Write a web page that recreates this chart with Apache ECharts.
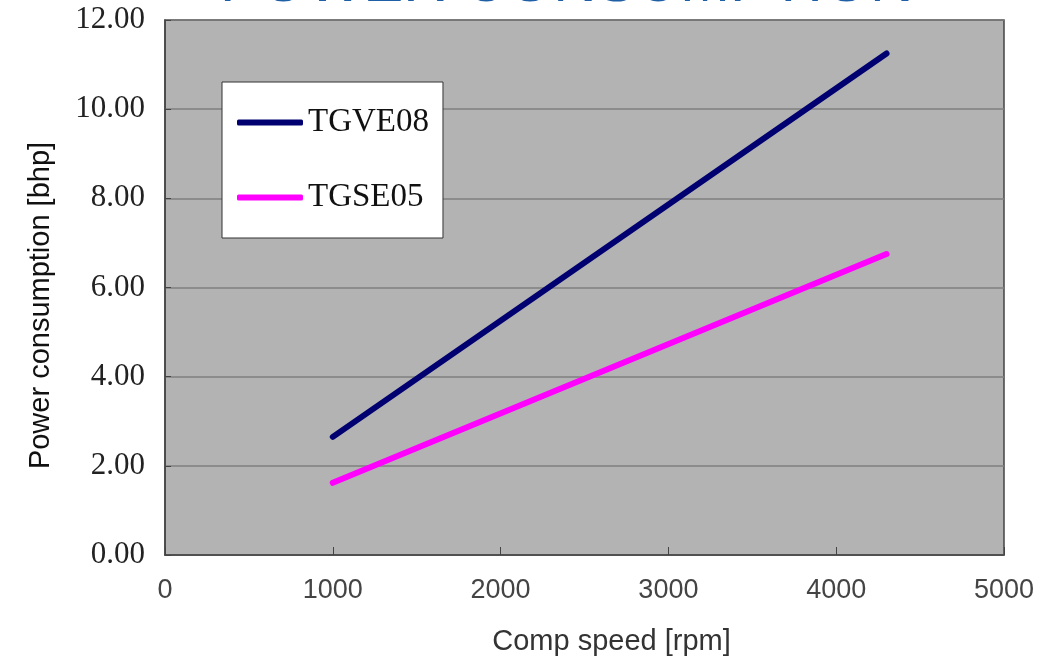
<!DOCTYPE html>
<html>
<head>
<meta charset="utf-8">
<script src="https://cdn.jsdelivr.net/npm/echarts@6/dist/echarts.min.js"></script>
<style>html,body{margin:0;padding:0;background:#fff;}#c{width:1055px;height:658px;}</style>
</head>
<body>
<div id="c"></div>
<script>
const titleText = 'POWER CONSUMPTION';
const xName = 'Comp speed [rpm]';
const yName = 'Power consumption [bhp]';
const seriesNames = ['TGVE08', 'TGSE05'];
const speeds = [1000, 4300];
const tgve08 = [2.65, 11.25];
const tgse05 = [1.62, 6.75];
const seriesColors = ['#000070', '#ff00ff'];

const chart = echarts.init(document.getElementById('c'));
chart.setOption({
  animation: false,
  backgroundColor: '#ffffff',
  title: {
    text: titleText, left: 215, top: -51,
    textStyle: { color: '#1f5fa6', fontSize: 60, fontWeight: 'normal', fontFamily: 'Liberation Sans' }
  },
  grid: { left: 165, right: 51, top: 20, bottom: 103, outerBoundsMode: 'none', show: true, backgroundColor: '#b3b3b3', borderColor: '#444', borderWidth: 1.5 },
  legend: {
    orient: 'vertical', left: 222, top: 82,
    backgroundColor: '#ffffff', borderColor: '#333', borderWidth: 1,
    padding: [24, 14, 24, 15], itemGap: 42,
    itemWidth: 66, itemHeight: 6, icon: 'roundRect',
    textStyle: { fontFamily: 'Liberation Serif', fontSize: 33, color: '#111' },
    data: seriesNames
  },
  xAxis: {
    type: 'value', min: 0, max: 5000, interval: 1000,
    name: xName, nameLocation: 'middle', nameGap: 72,
    nameTextStyle: { fontFamily: 'Liberation Sans', fontSize: 29, color: '#333', padding: [0, 0, 0, 54] },
    axisLine: { show: true, lineStyle: { color: '#444', width: 1.5 } },
    axisTick: { show: true, inside: true, length: 8, lineStyle: { color: '#444' } },
    axisLabel: { margin: 22, fontFamily: 'Liberation Sans', fontSize: 27, color: '#444',
      formatter: v => String(v) },
    splitLine: { show: false }
  },
  yAxis: {
    type: 'value', min: 0, max: 12, interval: 2,
    name: yName, nameLocation: 'middle', nameGap: 110,
    nameTextStyle: { fontFamily: 'Liberation Sans', fontSize: 29, color: '#111', padding: [0, 0, 0, -36] },
    axisLine: { show: true, lineStyle: { color: '#444', width: 1.5 } },
    axisTick: { show: true, inside: true, length: 6, lineStyle: { color: '#444' } },
    axisLabel: { margin: 20, fontFamily: 'Liberation Serif', fontSize: 31, color: '#222',
      formatter: v => v.toFixed(2) },
    splitLine: { show: true, lineStyle: { color: '#7f7f7f', width: 1.5 } }
  },
  series: [
    { name: seriesNames[0], type: 'line', showSymbol: false, color: seriesColors[0],
      lineStyle: { width: 6, color: seriesColors[0], cap: 'round' },
      data: speeds.map((s, i) => [s, tgve08[i]]) },
    { name: seriesNames[1], type: 'line', showSymbol: false, color: seriesColors[1],
      lineStyle: { width: 6, color: seriesColors[1], cap: 'round' },
      data: speeds.map((s, i) => [s, tgse05[i]]) }
  ]
});
</script>
</body>
</html>
